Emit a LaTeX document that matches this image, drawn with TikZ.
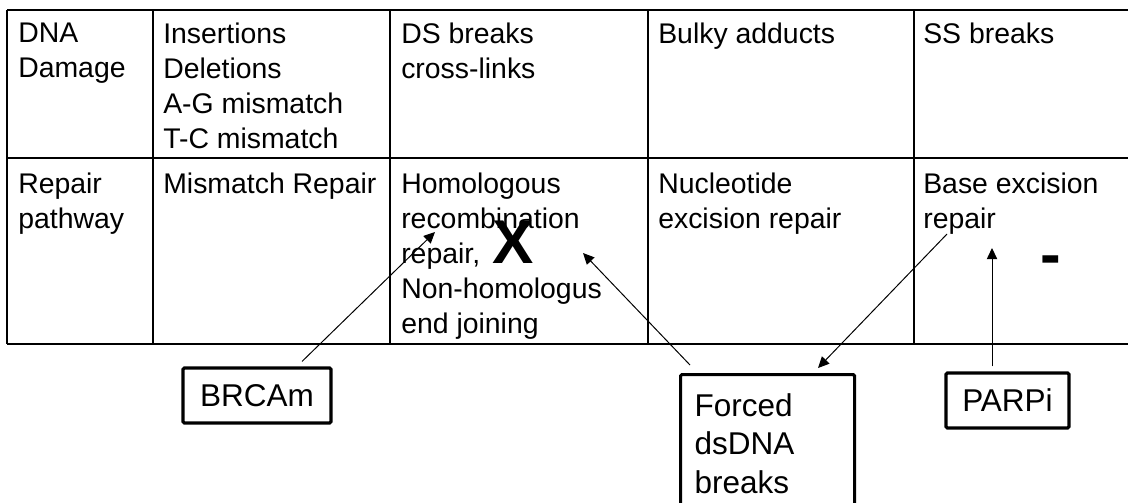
\documentclass[tikz,border=0pt]{standalone}
\usepackage{fontspec}
\setmainfont{Liberation Sans}
\usetikzlibrary{arrows.meta}

\tikzset{
    thinrule/.style={line width=0.9pt},
    thickrule/.style={line width=1.5pt},
    celltext/.style={anchor=north west, inner sep=0pt, align=left,
        font=\fontsize{20.2}{24.9}\selectfont},
    drugbox/.style={draw, line width=2.2pt, rounded corners=1pt, inner sep=0pt,
        font=\fontsize{22.4}{27.3}\selectfont},
    bigmark/.style={inner sep=0pt, font=\fontsize{44}{44}\selectfont\bfseries},
    pointer/.style={-{Triangle[length=2.8mm,width=2.6mm]}, line width=0.7pt}
}

\begin{document}
\begin{tikzpicture}[x=0.025cm,y=-0.025cm]

    \useasboundingbox (0,0) rectangle (1128,502);
    \clip (0,0) rectangle (1128,502);

    %% Table
    % Grid lines
    \draw[thinrule] (7,10) -- (1128,10);
    \draw[thickrule] (7,158) -- (1128,158);
    \draw[thickrule] (7,344) -- (1128,344);
    \foreach \x in {7,153,390,648,914}
        \draw[thinrule] (\x,10) -- (\x,344);

    % Damage row
    \node[celltext] (dmg) at (18,22.5) {DNA\\Damage};
    \node[celltext] (ins) at (163,22.5) {Insertions\\Deletions\\A-G mismatch\\T-C mismatch};
    \node[celltext] (ds) at (401,22.5) {DS breaks\\cross-links};
    \node[celltext] (bulky) at (658,22.5) {Bulky adducts};
    \node[celltext] (ss) at (923,22.5) {SS breaks};

    % Repair row
    \node[celltext] (rep) at (18,172.5) {Repair\\pathway};
    \node[celltext] (mmr) at (163,172.5) {Mismatch Repair};
    \node[celltext] (hr) at (401,172.5) {Homologous\\recombination\\repair,\\Non-homologus\\end joining};
    \node[celltext] (ner) at (658,172.5) {Nucleotide\\excision repair};
    \node[celltext] (ber) at (923,172.5) {Base excision\\repair};

    % Block and minus marks
    \node[bigmark] (block) at (513,242) {X};
    \node[bigmark] (minus) at (1050.5,266) {-};

    %% Drugs below the table
    \node[drugbox, minimum width=3.7cm, minimum height=1.375cm] (brca) at (257,395.5) {BRCAm};
    \node[drugbox, minimum width=3.075cm, minimum height=1.375cm] (parp) at (1007.5,400.5) {PARPi};
    \node[drugbox, anchor=north west, text width=3.65cm, inner xsep=0.35cm, inner ysep=0.475cm,
        align=left] (forced) at (679,373) {Forced\\dsDNA\\breaks};

    % Arrow ends in the table
    \coordinate (hrtip) at (435,232);
    \coordinate (hrtiptwo) at (583,253);
    \coordinate (bertail) at (947,234);
    \coordinate (bertip) at (992,248);

    % Arrows
    \draw[pointer] ([shift={(45,-5)}]brca.north) -- (hrtip);
    \draw[pointer] ([shift={(11,-8)}]forced.north west) -- (hrtiptwo);
    \draw[pointer] (bertail) -- ([shift={(139,-5)}]forced.north west);
    \draw[pointer] ([shift={(-15.5,-5)}]parp.north) -- (bertip);

\end{tikzpicture}
\end{document}
